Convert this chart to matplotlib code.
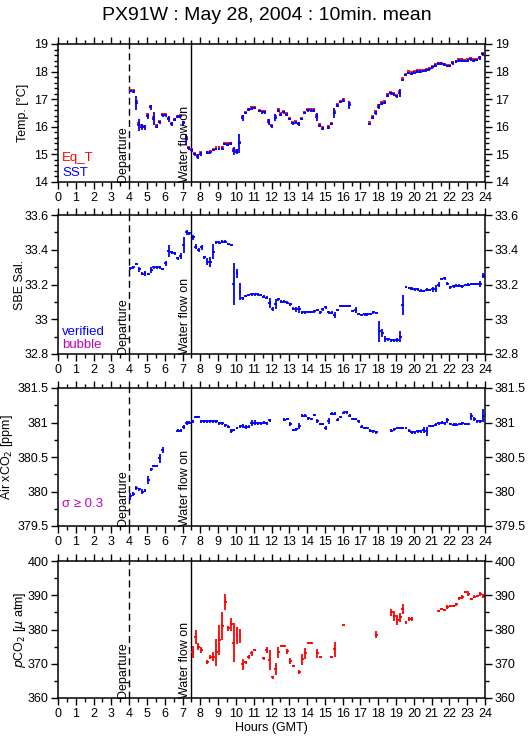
import matplotlib
matplotlib.use("Agg")
from matplotlib import pyplot as plt
from matplotlib.ticker import MultipleLocator

plt.rcParams['font.family'] = ['Liberation Sans', 'DejaVu Sans']

# ---- temperature (Eq_T red, SST blue) ----
sst_hours = [4.08, 4.25, 4.40, 4.55, 4.72, 4.88, 5.05, 5.22, 5.38, 5.55,
             5.72, 5.88, 6.05, 6.22, 6.38, 6.55, 6.72, 6.88, 7.05, 7.20,
             7.35, 7.52, 7.68, 7.85, 8.02, 8.38, 8.55, 8.72, 8.88, 9.05,
             9.22, 9.38, 9.55, 9.72, 9.88, 10.05, 10.20, 10.38, 10.55, 10.72,
             10.88, 11.05, 11.30, 11.47, 11.63, 11.85, 12.02, 12.20, 12.37, 12.53,
             12.70, 12.87, 13.03, 13.20, 13.37, 13.53, 13.70, 13.87, 14.03, 14.20,
             14.37, 14.53, 14.70, 14.87, 15.20, 15.37, 15.53, 15.70, 15.87, 16.03,
             16.37, 17.53, 17.70, 17.87, 18.03, 18.20, 18.37, 18.53, 18.70, 18.87,
             19.03, 19.20, 19.37, 19.53, 19.70, 19.87, 20.03, 20.20, 20.37, 20.53,
             20.70, 20.87, 21.03, 21.20, 21.37, 21.53, 21.70, 21.87, 22.03, 22.20,
             22.37, 22.53, 22.70, 22.87, 23.03, 23.20, 23.37, 23.53, 23.70, 23.87]
sst = [17.30, 17.27, 16.86, 16.08, 16.00, 15.98, 16.38, 16.70, 16.30, 16.00,
       16.16, 16.42, 16.42, 16.28, 16.10, 16.26, 16.36, 16.38, 16.12, 15.55,
       15.22, 15.15, 15.00, 14.92, 15.02, 15.06, 15.07, 15.16, 15.20, 15.20,
       15.21, 15.38, 15.35, 15.39, 15.12, 15.10, 15.40, 16.32, 16.50, 16.62,
       16.66, 16.68, 16.57, 16.52, 16.53, 16.18, 16.02, 16.33, 16.58, 16.44,
       16.53, 16.44, 16.28, 16.13, 16.15, 16.10, 16.28, 16.50, 16.60, 16.60,
       16.58, 16.36, 16.04, 15.93, 15.97, 16.10, 16.50, 16.77, 16.90, 16.95,
       16.80, 16.10, 16.33, 16.50, 16.73, 16.84, 16.87, 17.13, 17.21, 17.18,
       17.10, 17.23, 17.70, 17.88, 17.95, 17.92, 17.96, 18.00, 18.00, 18.02,
       18.04, 18.08, 18.15, 18.22, 18.28, 18.28, 18.25, 18.20, 18.20, 18.30,
       18.36, 18.40, 18.40, 18.38, 18.40, 18.44, 18.40, 18.42, 18.50, 18.62]
sst_err = [.05, .05, .25, .22, .10, .10, .08, .10, .25, .06,
           .05, .05, .05, .10, .06, .06, .05, .05, .10, .20,
           .05, .05, .05, .08, .08, .05, .05, .05, .05, .05,
           .05, .05, .05, .05, .15, .08, .35, .10, .05, .05,
           .05, .05, .05, .05, .05, .10, .05, .12, .05, .05,
           .05, .05, .05, .06, .05, .06, .05, .05, .05, .05,
           .05, .15, .05, .05, .05, .05, .17, .05, .05, .05,
           .15, .05, .05, .06, .10, .05, .05, .05, .05, .05,
           .05, .15, .05, .05, .05, .05, .05, .05, .05, .05,
           .05, .05, .05, .05, .05, .05, .05, .05, .05, .05,
           .05, .05, .05, .05, .05, .05, .05, .05, .08, .05]
eq_t = [17.35, 17.32, 16.93, 16.13, 16.05, 16.03, 16.45, 16.76, 16.36, 16.05,
        16.21, 16.46, 16.46, 16.33, 16.14, 16.30, 16.40, 16.41, 16.18, 15.62,
        15.27, 15.20, 15.05, 14.99, 15.08, 15.10, 15.11, 15.21, 15.26, 15.27,
        15.28, 15.43, 15.40, 15.43, 15.18, 15.15, 15.45, 16.38, 16.55, 16.66,
        16.70, 16.72, 16.62, 16.59, 16.59, 16.24, 16.08, 16.38, 16.63, 16.49,
        16.58, 16.49, 16.33, 16.19, 16.20, 16.15, 16.33, 16.55, 16.66, 16.66,
        16.63, 16.42, 16.09, 15.99, 16.03, 16.15, 16.57, 16.83, 16.95, 16.99,
        16.88, 16.16, 16.38, 16.56, 16.79, 16.89, 16.92, 17.18, 17.26, 17.24,
        17.16, 17.30, 17.76, 17.93, 18.01, 17.97, 18.01, 18.04, 18.04, 18.06,
        18.08, 18.12, 18.19, 18.26, 18.31, 18.31, 18.29, 18.24, 18.24, 18.34,
        18.40, 18.45, 18.45, 18.43, 18.44, 18.48, 18.44, 18.46, 18.54, 18.66]

# ---- salinity ----
sal_hours = [4.06, 4.22, 4.39, 4.56, 4.73, 4.89, 5.06, 5.23, 5.39, 5.56,
             5.73, 5.89, 6.06, 6.23, 6.39, 6.56, 6.73, 6.89, 7.06, 7.23,
             7.39, 7.59, 7.74, 7.91, 8.07, 8.23, 8.39, 8.56, 8.72, 8.89,
             9.06, 9.22, 9.39, 9.56, 9.73, 9.89, 10.06, 10.23, 10.39, 10.56,
             10.73, 10.89, 11.06, 11.23, 11.39, 11.56, 11.73, 11.89, 12.06, 12.23,
             12.39, 12.56, 12.73, 12.89, 13.06, 13.23, 13.39, 13.56, 13.73, 13.89,
             14.06, 14.23, 14.39, 14.56, 14.73, 14.89, 15.06, 15.23, 15.39, 15.56,
             15.73, 15.89, 16.06, 16.23, 16.39, 16.56, 16.73, 16.89, 17.06, 17.23,
             17.39, 17.56, 17.73, 17.89, 18.06, 18.23, 18.39, 18.56, 18.73, 18.89,
             19.06, 19.23, 19.39, 19.56, 19.73, 19.89, 20.06, 20.23, 20.39, 20.56,
             20.73, 20.89, 21.06, 21.23, 21.39, 21.56, 21.73, 21.89, 22.06, 22.23,
             22.39, 22.56, 22.73, 22.89, 23.06, 23.23, 23.39, 23.56, 23.73, 23.89]
sal = [33.293, 33.300, 33.318, 33.287, 33.262, 33.264, 33.260, 33.283, 33.300, 33.300,
       33.300, 33.289, 33.322, 33.395, 33.385, 33.379, 33.350, 33.364, 33.427, 33.500,
       33.494, 33.471, 33.418, 33.398, 33.414, 33.356, 33.331, 33.331, 33.389, 33.443,
       33.441, 33.446, 33.446, 33.433, 33.427, 33.203, 33.264, 33.159, 33.120, 33.134,
       33.139, 33.143, 33.143, 33.143, 33.139, 33.130, 33.124, 33.095, 33.059, 33.088,
       33.114, 33.100, 33.100, 33.095, 33.085, 33.060, 33.058, 33.057, 33.040, 33.040,
       33.042, 33.042, 33.045, 33.053, 33.040, 33.058, 33.068, 33.040, 33.038, 33.025,
       33.053, 33.076, 33.076, 33.076, 33.076, 33.047, 33.053, 33.030, 33.025, 33.028,
       33.028, 33.030, 33.040, 33.036, 32.930, 32.920, 32.886, 32.885, 32.878, 32.878,
       32.880, 32.900, 33.082, 33.185, 33.180, 33.175, 33.172, 33.172, 33.165, 33.162,
       33.170, 33.168, 33.172, 33.175, 33.200, 33.232, 33.235, 33.205, 33.183, 33.190,
       33.193, 33.193, 33.190, 33.197, 33.200, 33.203, 33.203, 33.203, 33.203, 33.250]
sal_err = [.008, .008, .008, .015, .008, .015, .008, .015, .008, .008,
           .008, .008, .015, .035, .008, .008, .008, .020, .045, .015,
           .008, .015, .015, .010, .015, .008, .020, .030, .045, .008,
           .008, .008, .008, .008, .008, .120, .025, .050, .010, .008,
           .008, .008, .008, .008, .008, .008, .008, .030, .010, .030,
           .008, .008, .008, .008, .008, .008, .015, .020, .008, .008,
           .008, .008, .008, .008, .008, .008, .008, .008, .008, .015,
           .008, .008, .008, .008, .008, .008, .015, .008, .008, .008,
           .008, .008, .008, .008, .060, .025, .015, .008, .008, .008,
           .010, .030, .060, .008, .008, .008, .008, .008, .008, .008,
           .008, .008, .015, .020, .015, .008, .008, .010, .008, .008,
           .008, .008, .008, .008, .008, .008, .008, .008, .015, .015]

# ---- air xCO2 ----
air_hours = [4.06, 4.23, 4.39, 4.56, 4.73, 4.89, 5.06, 5.23, 5.39, 5.56,
             5.73, 5.89, 6.73, 6.89, 7.06, 7.23, 7.39, 7.56, 7.73, 7.89,
             8.06, 8.23, 8.39, 8.56, 8.73, 8.89, 9.06, 9.23, 9.39, 9.56,
             9.73, 9.89, 10.06, 10.23, 10.39, 10.56, 10.73, 10.89, 11.06, 11.23,
             11.39, 11.56, 11.73, 11.89, 12.73, 12.89, 13.06, 13.23, 13.39, 13.56,
             13.73, 13.89, 14.06, 14.23, 14.39, 14.56, 14.73, 14.89, 15.06, 15.23,
             15.39, 15.56, 15.73, 15.89, 16.06, 16.23, 16.39, 16.56, 16.73, 16.89,
             17.06, 17.23, 17.39, 17.56, 17.73, 17.89, 18.73, 18.89, 19.06, 19.23,
             19.39, 19.56, 19.73, 19.89, 20.06, 20.23, 20.39, 20.56, 20.73, 20.89,
             21.06, 21.23, 21.39, 21.56, 21.73, 21.89, 22.06, 22.23, 22.39, 22.56,
             22.73, 22.89, 23.06, 23.23, 23.39, 23.56, 23.73, 23.89]
air_xco2 = [379.93, 379.96, 380.05, 380.03, 380.00, 380.01, 380.17, 380.32, 380.37, 380.37,
            380.48, 380.60, 380.88, 380.88, 380.94, 380.99, 381.00, 381.02, 381.08, 381.08,
            381.02, 381.02, 381.02, 381.02, 381.02, 381.02, 380.99, 380.99, 380.96, 380.94,
            380.88, 380.89, 380.92, 380.94, 380.95, 380.94, 380.94, 380.99, 381.00, 380.99,
            380.99, 381.00, 380.99, 381.03, 381.04, 381.05, 380.98, 380.89, 380.90, 380.95,
            381.10, 381.10, 381.06, 381.05, 381.11, 381.02, 380.98, 380.98, 380.92, 381.02,
            381.13, 381.13, 381.04, 381.08, 381.14, 381.15, 381.10, 381.05, 381.05, 381.02,
            380.94, 380.92, 380.92, 380.88, 380.87, 380.86, 380.88, 380.90, 380.92, 380.92,
            380.92, 380.92, 380.88, 380.86, 380.86, 380.87, 380.87, 380.89, 380.87, 380.95,
            380.95, 380.97, 380.99, 381.00, 380.99, 381.03, 380.98, 380.97, 380.97, 380.98,
            380.99, 380.98, 380.98, 381.09, 381.05, 381.02, 381.02, 381.10]
air_err = [.05, .03, .03, .02, .03, .02, .06, .02, .02, .02,
           .06, .04, .02, .02, .03, .03, .02, .02, .02, .02,
           .02, .02, .02, .02, .02, .02, .02, .02, .02, .02,
           .03, .02, .02, .02, .03, .03, .02, .04, .04, .02,
           .02, .02, .02, .02, .02, .02, .03, .02, .02, .05,
           .02, .02, .02, .02, .02, .03, .02, .02, .03, .04,
           .02, .02, .02, .02, .02, .02, .02, .02, .02, .02,
           .02, .02, .02, .02, .02, .02, .02, .02, .02, .02,
           .02, .02, .02, .02, .02, .02, .02, .04, .06, .02,
           .02, .02, .02, .02, .02, .03, .02, .02, .02, .02,
           .02, .02, .02, .05, .03, .02, .02, .09]

# ---- pCO2 ----
pco2_hours = [7.56, 7.73, 7.89, 8.06, 8.39, 8.56, 8.73, 8.89, 9.06, 9.23,
              9.39, 9.56, 9.73, 9.89, 10.06, 10.23, 10.39, 10.56, 10.73, 10.89,
              11.06, 11.56, 11.73, 11.89, 12.06, 12.23, 12.39, 12.56, 12.73, 12.89,
              13.06, 13.23, 13.56, 13.73, 13.89, 14.06, 14.23, 14.56, 14.73, 15.39,
              15.56, 16.06, 17.89, 18.73, 18.89, 19.06, 19.23, 19.39, 19.56, 19.73,
              19.89, 21.39, 21.56, 21.73, 21.89, 22.06, 22.23, 22.39, 22.56, 22.73,
              22.89, 23.06, 23.23, 23.39, 23.56, 23.73, 23.89]
pco2 = [373.5, 377.9, 375.0, 374.0, 370.4, 372.0, 372.0, 373.3, 376.9, 381.0,
        388.0, 380.3, 381.5, 376.2, 378.3, 378.1, 369.8, 370.4, 372.0, 373.0,
        374.0, 371.6, 374.0, 371.1, 366.0, 368.4, 373.3, 375.2, 375.2, 373.6,
        370.8, 369.4, 367.7, 371.3, 373.0, 376.1, 376.1, 373.0, 372.1, 372.0,
        374.2, 381.2, 378.5, 385.0, 384.0, 382.8, 383.6, 385.9, 382.1, 383.1,
        383.1, 385.4, 385.9, 385.7, 386.5, 386.9, 386.9, 387.4, 389.1, 389.6,
        391.0, 390.4, 388.9, 389.6, 389.8, 390.4, 389.8]
pco2_err = [1.8, 2.1, 1.0, 1.0, 0.6, 0.6, 1.3, 3.9, 4.4, 4.2,
            2.3, 0.6, 2.0, 5.6, 2.4, 2.0, 1.5, 0.4, 0.6, 0.6,
            0.3, 0.4, 0.8, 3.0, 0.5, 1.7, 1.5, 0.3, 0.3, 0.8,
            0.8, 0.3, 0.6, 1.6, 1.7, 0.3, 0.3, 1.4, 0.3, 0.3,
            2.2, 0.2, 1.0, 1.0, 1.5, 1.5, 1.3, 1.4, 0.5, 0.6,
            0.6, 0.3, 0.3, 0.3, 0.6, 0.3, 0.3, 0.4, 0.5, 0.6,
            0.3, 0.7, 0.3, 0.4, 0.3, 0.6, 0.5]

departure = 4.0
water_on = 7.5
half_bin = 5 / 60.   # 10 min mean -> +-5 min

W, H = 529, 739
fig = plt.figure(figsize=(W / 100, H / 100), dpi=100)

def panel(top, height, label_x):
    ax = fig.add_axes([58 / W, 1 - (top + height) / H, 427 / W, height / H])
    ax.set_xlim(0, 24)
    ax.xaxis.set_major_locator(MultipleLocator(1))
    ax.xaxis.set_minor_locator(MultipleLocator(0.5))
    ax.tick_params(which='both', direction='out', top=True, right=True,
                   labelright=True, labelsize=9, width=1, pad=2)
    ax.tick_params(which='major', length=5)
    ax.tick_params(which='minor', length=3)
    for s in ax.spines.values():
        s.set_linewidth(1.1)
    ax.axvline(departure, color='k', lw=1, ls=(0, (5, 3)))
    ax.axvline(water_on, color='k', lw=1)
    tr = ax.get_xaxis_transform()
    ax.text(departure - 0.03, 0, 'Departure', rotation=90, ha='right', va='bottom',
            fontsize=9, transform=tr)
    ax.text(water_on - 0.03, 0, 'Water flow on', rotation=90, ha='right', va='bottom',
            fontsize=9, transform=tr)
    ax.yaxis.set_label_coords(label_x, 0.5)
    return ax

# panel 1 : temperatures
ax1 = panel(44, 138, -0.068)
ax1.errorbar(sst_hours, eq_t, xerr=half_bin, fmt='none', ecolor='r', elinewidth=1.3)
ax1.errorbar(sst_hours, sst, xerr=half_bin, yerr=sst_err, fmt='none', ecolor='b', elinewidth=1.3)
ax1.set_ylim(14, 19)
ax1.yaxis.set_major_locator(MultipleLocator(1))
ax1.yaxis.set_minor_locator(MultipleLocator(0.2))
ax1.set_ylabel('Temp. [°C]', fontsize=9)
ax1.text(0.01, 0.175, 'Eq_T', color='r', fontsize=9.5, transform=ax1.transAxes, va='center')
ax1.text(0.01, 0.065, 'SST', color='b', fontsize=9.5, transform=ax1.transAxes, va='center')

# panel 2 : salinity
ax2 = panel(215, 139, -0.075)
ax2.errorbar(sal_hours, sal, xerr=half_bin, yerr=sal_err, fmt='none', ecolor='b', elinewidth=1.3)
ax2.set_ylim(32.8, 33.6)
ax2.yaxis.set_minor_locator(MultipleLocator(0.1))
ax2.set_yticks([32.8, 33.0, 33.2, 33.4, 33.6], ['32.8', '33', '33.2', '33.4', '33.6'])
ax2.set_ylabel('SBE Sal.', fontsize=9)
ax2.text(0.01, 0.16, 'verified', color='b', fontsize=9.5, transform=ax2.transAxes, va='center')
ax2.text(0.01, 0.065, 'bubble', color='m', fontsize=9.5, transform=ax2.transAxes, va='center')

# panel 3 : air xCO2
ax3 = panel(388, 138, -0.1)
ax3.errorbar(air_hours, air_xco2, xerr=half_bin, yerr=air_err, fmt='none', ecolor='b', elinewidth=1.3)
ax3.set_ylim(379.5, 381.5)
ax3.yaxis.set_minor_locator(MultipleLocator(0.25))
ax3.set_yticks([379.5, 380, 380.5, 381, 381.5], ['379.5', '380', '380.5', '381', '381.5'])
ax3.set_ylabel('Air xCO$_2$ [ppm]', fontsize=9)
ax3.text(0.01, 0.16, 'σ ≥ 0.3', color='m', fontsize=9.5, transform=ax3.transAxes, va='center')

# panel 4 : pCO2
ax4 = panel(561, 137, -0.07)
ax4.errorbar(pco2_hours, pco2, xerr=half_bin, yerr=pco2_err, fmt='none', ecolor='r', elinewidth=1.3)
ax4.set_ylim(360, 400)
ax4.yaxis.set_major_locator(MultipleLocator(10))
ax4.yaxis.set_minor_locator(MultipleLocator(5))
ax4.set_ylabel('$p$CO$_2$ [$\\mu$ atm]', fontsize=9)
ax4.set_xlabel('Hours (GMT)', fontsize=9, labelpad=2)

fig.text(0.505, 1 - 15 / H, 'PX91W : May 28, 2004 : 10min. mean', ha='center', va='center',
         fontsize=14)

fig.savefig('out.png', dpi=100)
